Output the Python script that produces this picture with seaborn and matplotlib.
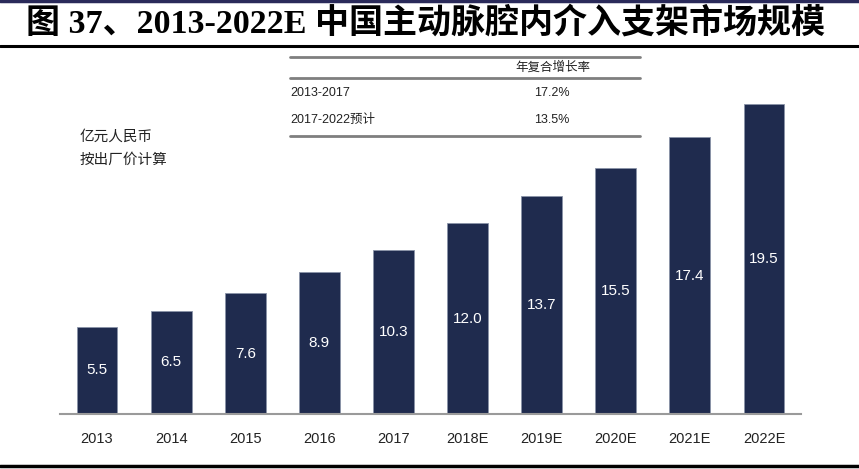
import matplotlib
matplotlib.use("Agg")
import matplotlib.pyplot as plt
from matplotlib.lines import Line2D
import seaborn as sns
import pandas as pd

years = ["2013", "2014", "2015", "2016", "2017", "2018E", "2019E", "2020E", "2021E", "2022E"]
values = [5.5, 6.5, 7.6, 8.9, 10.3, 12.0, 13.7, 15.5, 17.4, 19.5]
table_header = "年复合增长率"
table_periods = ["2013-2017", "2017-2022预计"]
table_rates = ["17.2%", "13.5%"]
title = "图 37、2013-2022E 中国主动脉腔内介入支架市场规模"
unit_lines = ["亿元人民币", "按出厂价计算"]

sns.set_theme(style="white")
plt.rcParams['font.family'] = ['Liberation Sans', 'Noto Sans CJK SC', 'DejaVu Sans']

W, H = 859, 469
fig = plt.figure(figsize=(W / 100, H / 100), dpi=100)

def fx(px):
    return px / W

def fy(py):
    return 1 - py / H

ax = fig.add_axes([fx(60), fy(414), fx(801) - fx(60), fy(60) - fy(414)])
df = pd.DataFrame({"year": years, "value": values})
navy = "#1f2b4e"
sns.barplot(data=df, x="year", y="value", color=navy, width=0.55, ax=ax,
            edgecolor="#8a93a8", linewidth=0.6, saturation=1)
ax.set_xlim(-0.5, 9.5)
ax.set_ylim(0, 354 / 15.9)
for i, v in enumerate(values):
    ax.text(i, v / 2, f"{v:.1f}", ha="center", va="center", color="white", fontsize=11)
ax.set_xlabel("")
ax.set_ylabel("")
ax.set_yticks([])
ax.tick_params(axis="x", length=0, pad=13, labelsize=10.5, labelcolor="#222222")
for s in ["top", "right", "left"]:
    ax.spines[s].set_visible(False)
ax.spines["bottom"].set_color("#9a9a9a")
ax.spines["bottom"].set_linewidth(1.5)

# figure decorations
fig.add_artist(Line2D([0, 1], [fy(1), fy(1)], transform=fig.transFigure, color="#2a2a5a", lw=2.5))
fig.add_artist(Line2D([fx(0), fx(859)], [fy(46), fy(46)], transform=fig.transFigure, color="black", lw=2.2))
fig.add_artist(Line2D([fx(0), fx(859)], [fy(466), fy(466)], transform=fig.transFigure, color="black", lw=2.5))
fig.text(fx(426), fy(23), title, ha="center", va="center", fontsize=24.5, fontweight="bold",
         family=['Liberation Serif', 'Noto Sans CJK SC', 'DejaVu Sans'], color="black")

# unit text
fig.text(fx(80), fy(137), unit_lines[0], ha="left", va="center", fontsize=10.5, color="#222222")
fig.text(fx(80), fy(160), unit_lines[1], ha="left", va="center", fontsize=10.5, color="#222222")

# table
tl, tr = fx(290), fx(640)
for py in [57, 78, 136]:
    fig.add_artist(Line2D([tl, tr], [fy(py), fy(py)], transform=fig.transFigure, color="#7f7f7f", lw=2))
fig.text(fx(553), fy(68), table_header, ha="center", va="center", fontsize=9, color="#222222")
for py, p, r in zip([93, 120], table_periods, table_rates):
    fig.text(fx(290), fy(py), p, ha="left", va="center", fontsize=9, color="#222222")
    fig.text(fx(552), fy(py), r, ha="center", va="center", fontsize=9, color="#222222")

fig.savefig("out.png", dpi=100)
